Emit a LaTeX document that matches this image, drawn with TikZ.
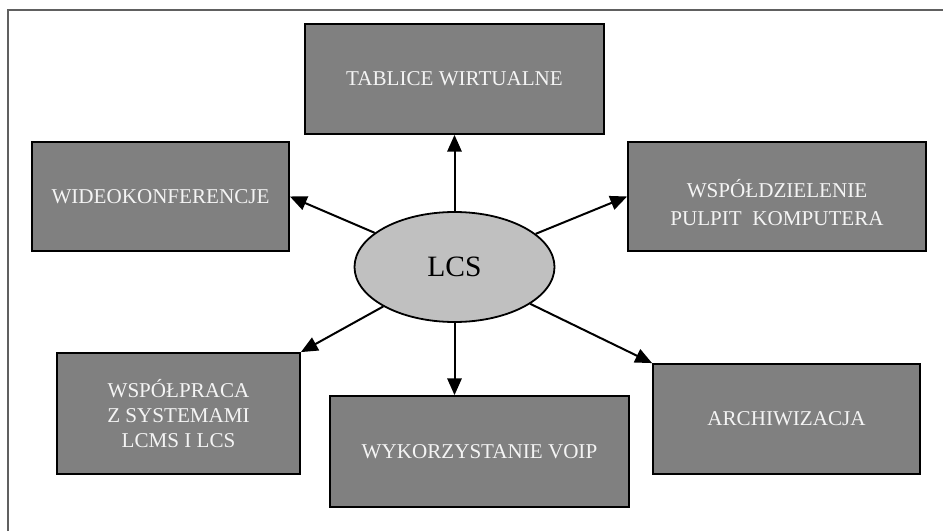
\documentclass[tikz,border=0pt]{standalone}
\usepackage{fontspec}
\setmainfont{Liberation Serif}
\usetikzlibrary{shapes.geometric,arrows.meta}
\definecolor{boxgray}{HTML}{808080}
\definecolor{ellgray}{HTML}{C0C0C0}
\definecolor{txtwhite}{HTML}{F4F4F4}
\definecolor{framegray}{HTML}{606060}

\begin{document}
\begin{tikzpicture}[x=0.25mm,y=-0.25mm,
	box/.style={draw=black, line width=0.45mm, fill=boxgray, text=txtwhite, align=center, inner sep=0pt, font=\fontsize{15}{17.5}\selectfont},
	link/.style={line width=0.5mm, -{Triangle[length=4.2mm,width=3.6mm]}}]
	% Frame
	\useasboundingbox (0,0) rectangle (943,531);
	\draw[framegray, line width=0.3mm] (8,531) -- (8,10) -- (943,10);
	
	% Centre
	\node[ellipse, draw=black, line width=0.45mm, fill=ellgray, minimum width=50mm, minimum height=27.5mm, inner sep=0pt, font=\fontsize{21}{24}\selectfont] (lcs) at (454.5,267) {LCS};
	
	% Boxes
	\node[box, minimum width=74.75mm, minimum height=27.5mm] (tablice) at (454.5,79) {TABLICE WIRTUALNE};
	\node[box, minimum width=64.25mm, minimum height=27.25mm] (wideo) at (160.5,196.5) {WIDEOKONFERENCJE};
	\node[box, minimum width=74.5mm, minimum height=27.25mm] (pulpit) at (777,196.5) {\rule{0pt}{7.5mm}WSPÓŁDZIELENIE\\[2pt]PULPIT \ KOMPUTERA};
	\node[box, minimum width=60.75mm, minimum height=30.25mm] (wspolpraca) at (178.5,413.5) {WSPÓŁPRACA\\Z SYSTEMAMI\\LCMS I LCS};
	\node[box, minimum width=66.75mm, minimum height=27.5mm] (archiwum) at (786.5,419) {ARCHIWIZACJA};
	\node[box, minimum width=74.75mm, minimum height=27.75mm] (voip) at (479.5,451.5) {WYKORZYSTANIE VOIP};
	
	% Arrows
	\draw[link] (lcs) -- (tablice);
	\draw[link] (lcs) -- (wideo.east);
	\draw[link] (lcs) -- (pulpit.west);
	\draw[link] (lcs) -- (wspolpraca.north east);
	\draw[link] (lcs) -- (archiwum.north west);
	\draw[link] (lcs.south) -- (lcs.south |- voip.north);
\end{tikzpicture}
\end{document}
